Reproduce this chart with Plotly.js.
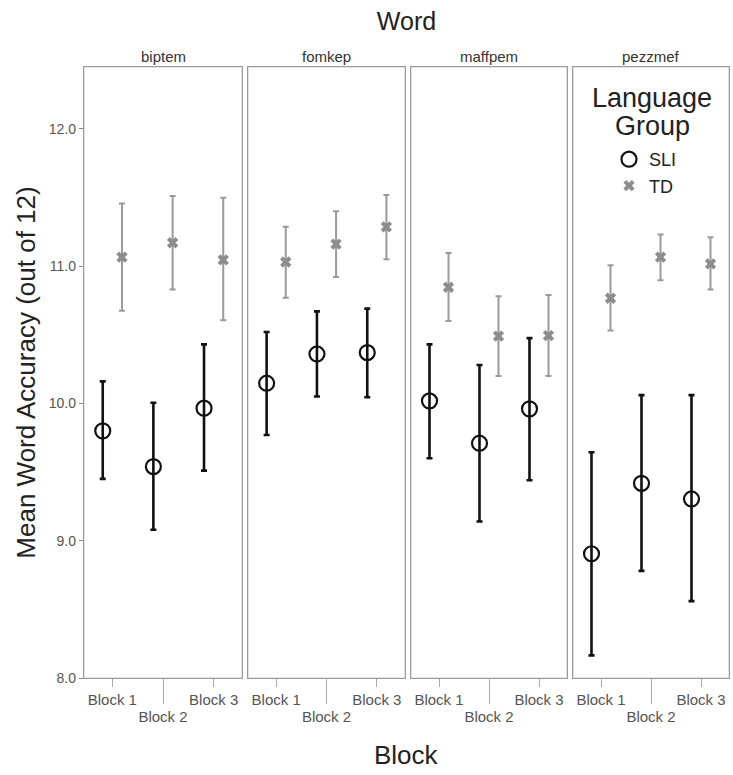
<!DOCTYPE html>
<html>
<head>
<meta charset="utf-8">
<script src="https://cdn.plot.ly/plotly-3.0.1.min.js"></script>
<style>html,body{margin:0;padding:0;background:#fff;}#chart{width:733px;height:775px;}</style>
</head>
<body>
<div id="chart"></div>
<script>
// ---- data ----
var words = ['biptem', 'fomkep', 'maffpem', 'pezzmef'];
var blocks = ['Block 1', 'Block 2', 'Block 3'];
var blockIndex = [1, 2, 3];
var yTickVals = [8, 9, 10, 11, 12];
var yTickText = ['8.0', '9.0', '10.0', '11.0', '12.0'];

// SLI group: means and interval bounds per word (rows) and block (columns)
var sliMean = [[9.80, 9.54, 9.965], [10.147, 10.36, 10.37], [10.018, 9.71, 9.96], [8.905, 9.418, 9.304]];
var sliLow  = [[9.45, 9.08, 9.51], [9.77, 10.05, 10.045], [9.60, 9.14, 9.44], [8.165, 8.78, 8.56]];
var sliHigh = [[10.16, 10.005, 10.43], [10.52, 10.67, 10.69], [10.43, 10.28, 10.475], [9.644, 10.06, 10.06]];

// TD group
var tdMean = [[11.065, 11.17, 11.045], [11.03, 11.16, 11.286], [10.846, 10.49, 10.494], [10.766, 11.065, 11.016]];
var tdLow  = [[10.675, 10.83, 10.606], [10.77, 10.92, 11.05], [10.60, 10.20, 10.20], [10.53, 10.897, 10.83]];
var tdHigh = [[11.456, 11.51, 11.497], [11.286, 11.40, 11.517], [11.096, 10.78, 10.79], [11.006, 11.23, 11.21]];

// ---- layout constants ----
var W = 733, H = 775;
var mL = 84, mR = 4, mT = 67, mB = 97;
var plotW = W - mL - mR, plotH = H - mT - mB;
function px2x(p) { return (p - mL) / plotW; }
function px2y(p) { return (H - mB - p) / plotH; }
var panelPx = [[84, 242], [248, 405], [411, 567], [573, 729]];
var dodge = 0.19;
var xRange = [0.44, 3.56];
var yRange = [8, 12.45];
var FONT = 'Liberation Sans, Arial, sans-serif';
var frameColor = '#9a9a9a';
var innerFrameColor = '#cfcfcf';

var sliColor = '#111111', tdColor = '#8d8d8d';

function diff(a, b) { return a.map(function (v, i) { return v - b[i]; }); }

var traces = [];
var layout = {
  width: W, height: H,
  margin: {l: mL, r: mR, t: mT, b: mB},
  paper_bgcolor: '#ffffff', plot_bgcolor: '#ffffff',
  font: {family: FONT, color: '#555'},
  showlegend: true,
  title: {text: 'Word', x: 0.5, xref: 'paper', y: 1 - 21 / H, yref: 'container', yanchor: 'middle',
          font: {size: 25, color: '#222', family: FONT}},
  legend: {x: px2x(609), xanchor: 'left', y: px2y(141), yanchor: 'top',
           bgcolor: 'rgba(0,0,0,0)', font: {size: 18, color: '#222', family: FONT},
           tracegroupgap: 0, itemwidth: 30},
  annotations: [],
  shapes: [],
  hovermode: false
};

for (var p = 0; p < 4; p++) {
  var n = p + 1;
  var xa = n === 1 ? 'x' : 'x' + n;
  var ya = n === 1 ? 'y' : 'y' + n;
  var xName = n === 1 ? 'xaxis' : 'xaxis' + n;
  var yName = n === 1 ? 'yaxis' : 'yaxis' + n;
  var dom = [px2x(panelPx[p][0]), px2x(panelPx[p][1])];

  layout[xName] = {
    domain: dom, anchor: ya, range: xRange, fixedrange: true,
    tickmode: 'array', tickvals: [blockIndex[0], blockIndex[2]], ticktext: [blocks[0], blocks[2]],
    ticks: 'outside', ticklen: 8, tickwidth: 1, tickcolor: '#aaa',
    showgrid: false, zeroline: false,
    showline: true, mirror: true, linecolor: frameColor, linewidth: 1.2,
    tickfont: {size: 15, color: '#555', family: FONT}
  };
  layout[yName] = {
    domain: [0, 1], anchor: xa, range: yRange, fixedrange: true,
    showgrid: false, zeroline: false,
    showline: true, mirror: true, linecolor: frameColor, linewidth: 1.2
  };
  if (n === 1) {
    Object.assign(layout[yName], {
      tickmode: 'array', tickvals: yTickVals, ticktext: yTickText,
      ticks: 'outside', ticklen: 4, tickwidth: 1, tickcolor: '#888',
      tickfont: {size: 14, color: '#555', family: FONT},
      title: {text: 'Mean Word Accuracy (out of 12)', standoff: 5,
              font: {size: 26, color: '#222', family: FONT}}
    });
  } else {
    Object.assign(layout[yName], {matches: 'y', showticklabels: false, ticks: ''});
  }

  // inner frame line (double-line look of the reference)
  layout.shapes.push({type: 'rect', xref: xa + ' domain', yref: ya + ' domain',
                      x0: 0, x1: 1, y0: 0, y1: 1, line: {color: innerFrameColor, width: 1.2}, layer: 'below'});

  // overlay axis for the middle (Block 2) tick with a longer tick line
  var ovN = n + 4;
  var ovName = 'xaxis' + ovN;
  layout[ovName] = {
    overlaying: xa, anchor: ya, range: xRange, fixedrange: true,
    tickmode: 'array', tickvals: [blockIndex[1]], ticktext: [blocks[1]],
    ticks: 'outside', ticklen: 25, tickwidth: 1, tickcolor: '#aaa',
    showgrid: false, zeroline: false, showline: false,
    tickfont: {size: 15, color: '#555', family: FONT}
  };
  traces.push({type: 'scatter', mode: 'markers', x: [blockIndex[1]], y: [yRange[0]],
               xaxis: 'x' + ovN, yaxis: ya, marker: {opacity: 0}, showlegend: false, hoverinfo: 'skip'});

  // TD trace
  traces.push({
    type: 'scatter', mode: 'markers', name: 'TD', legendgroup: 'TD', showlegend: n === 1,
    legendrank: 2,
    x: blockIndex.map(function (b) { return b + dodge; }), y: tdMean[p],
    xaxis: xa, yaxis: ya,
    marker: {symbol: 'x', size: 10, color: tdColor, line: {width: 0}},
    error_y: {type: 'data', symmetric: false, array: diff(tdHigh[p], tdMean[p]),
              arrayminus: diff(tdMean[p], tdLow[p]), color: '#9a9a9a', thickness: 2, width: 3}
  });
  // SLI trace
  traces.push({
    type: 'scatter', mode: 'markers', name: 'SLI', legendgroup: 'SLI', showlegend: n === 1,
    legendrank: 1,
    x: blockIndex.map(function (b) { return b - dodge; }), y: sliMean[p],
    xaxis: xa, yaxis: ya,
    marker: {symbol: 'circle-open', size: 15, color: sliColor, line: {width: 2.2, color: sliColor}},
    error_y: {type: 'data', symmetric: false, array: diff(sliHigh[p], sliMean[p]),
              arrayminus: diff(sliMean[p], sliLow[p]), color: sliColor, thickness: 2.6, width: 3}
  });

  // panel strip title
  layout.annotations.push({
    text: words[p], xref: 'paper', yref: 'paper',
    x: (dom[0] + dom[1]) / 2, y: px2y(56), xanchor: 'center', yanchor: 'middle',
    showarrow: false, font: {size: 15, color: '#333', family: FONT}
  });
}

// legend heading inside last panel
layout.annotations.push({
  text: 'Language', xref: 'paper', yref: 'paper',
  x: px2x(652), y: px2y(98), xanchor: 'center', yanchor: 'middle',
  showarrow: false, font: {size: 27, color: '#222', family: FONT}
});
layout.annotations.push({
  text: 'Group', xref: 'paper', yref: 'paper',
  x: px2x(652), y: px2y(126), xanchor: 'center', yanchor: 'middle',
  showarrow: false, font: {size: 27, color: '#222', family: FONT}
});
// x axis title
layout.annotations.push({
  text: 'Block', xref: 'paper', yref: 'paper',
  x: 0.5, y: px2y(755), xanchor: 'center', yanchor: 'middle',
  showarrow: false, font: {size: 26, color: '#222', family: FONT}
});

Plotly.newPlot('chart', traces, layout, {displayModeBar: false, staticPlot: true});
</script>
</body>
</html>
